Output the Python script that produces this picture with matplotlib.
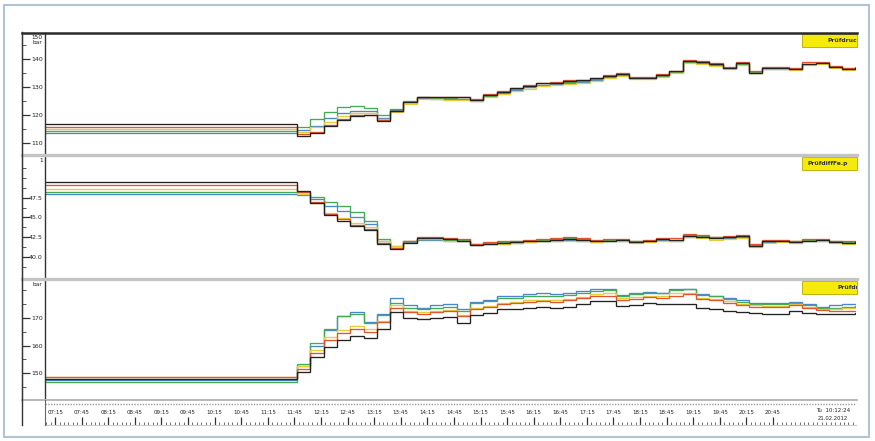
import numpy as np
import matplotlib.pyplot as plt
from matplotlib.patches import Rectangle
from matplotlib.lines import Line2D

W, H = 875, 441

# time grid in hours, 15 min samples (62 samples -> 63 edges)
edges = np.arange(7.0, 22.75, 0.25) + 0.05
t_lo, t_hi = 7.06, 22.31

tick_times = np.arange(7.25, 20.76, 0.5)
tick_labels = ['07:15', '07:45', '08:15', '08:45', '09:15', '09:45', '10:15',
               '10:45', '11:15', '11:45', '12:15', '12:45', '13:15', '13:45',
               '14:15', '14:45', '15:15', '15:45', '16:15', '16:45', '17:15',
               '17:45', '18:15', '18:45', '19:15', '19:45', '20:15', '20:45']

# --- top panel: Prüfdruck (bar) ---
top_black = [116.7] * 19 + [112.5, 113.5, 116.0, 118.0, 119.5, 119.8, 117.8, 121.5, 124.5, 126.5, 126.3, 126.5, 126.2, 125.3, 127.2, 128.3, 129.5, 130.3, 131.2, 131.5, 132.0, 132.3, 133.0, 134.0, 134.7, 133.3, 133.3, 134.3, 135.5, 139.3, 139.0, 138.2, 136.8, 138.4, 135.0, 136.6, 136.8, 136.5, 138.3, 138.6, 137.2, 136.5, 136.8]
top_red = [115.8] * 19 + [113.0, 114.0, 116.5, 118.5, 119.8, 120.0, 118.3, 121.5, 124.5, 126.3, 126.5, 126.3, 126.3, 125.5, 127.3, 128.5, 129.6, 130.5, 131.3, 131.8, 132.3, 132.5, 133.3, 134.2, 134.8, 133.5, 133.6, 134.5, 135.8, 139.5, 139.2, 138.5, 137.2, 138.8, 135.5, 137.0, 137.2, 136.8, 138.7, 139.0, 137.5, 136.8, 137.2]
top_yellow = [115.0] * 19 + [114.0, 115.5, 117.5, 119.5, 120.5, 120.8, 118.5, 121.0, 124.0, 125.5, 125.5, 125.3, 125.2, 124.8, 126.3, 127.3, 128.5, 129.3, 130.2, 130.6, 131.0, 131.4, 132.0, 133.0, 133.8, 132.8, 132.8, 133.6, 134.8, 138.6, 138.3, 137.6, 136.3, 137.8, 134.8, 136.2, 136.3, 136.0, 137.8, 138.2, 136.8, 136.0, 136.4]
top_green = [114.3] * 19 + [115.5, 118.5, 121.0, 122.8, 123.3, 122.3, 120.0, 122.0, 124.8, 126.2, 126.0, 126.0, 125.8, 125.3, 126.8, 128.0, 129.2, 130.0, 130.8, 131.2, 131.6, 132.0, 132.7, 133.6, 134.3, 133.2, 133.2, 134.0, 135.3, 139.0, 138.7, 138.0, 136.7, 138.2, 135.2, 136.6, 136.7, 136.5, 138.2, 138.6, 137.2, 136.4, 136.8]
top_blue = [113.6] * 19 + [114.5, 116.0, 119.0, 120.5, 121.5, 121.5, 119.0, 121.8, 124.5, 126.0, 125.8, 125.8, 125.5, 125.0, 126.8, 127.8, 129.0, 129.8, 130.7, 131.0, 131.5, 131.8, 132.5, 133.5, 134.2, 133.0, 133.0, 134.0, 135.2, 139.0, 138.6, 137.9, 136.6, 138.2, 135.0, 136.5, 136.5, 136.3, 138.2, 138.5, 137.0, 136.3, 136.7]

# --- middle panel: Prüfdifferenz ---
mid_black = [49.5] * 19 + [48.3, 46.8, 45.3, 44.6, 43.9, 43.4, 41.6, 41.0, 41.8, 42.4, 42.4, 42.3, 42.1, 41.5, 41.7, 41.8, 41.9, 42.0, 42.1, 42.2, 42.3, 42.2, 42.0, 42.1, 42.2, 41.9, 42.1, 42.3, 42.2, 42.7, 42.6, 42.4, 42.5, 42.7, 41.4, 42.0, 42.0, 41.9, 42.1, 42.2, 41.9, 41.8, 41.9]
mid_red = [49.1] * 19 + [48.2, 46.9, 45.5, 44.8, 44.1, 43.6, 41.8, 41.2, 42.0, 42.5, 42.5, 42.4, 42.3, 41.7, 41.9, 42.0, 42.1, 42.2, 42.3, 42.4, 42.5, 42.4, 42.2, 42.3, 42.3, 42.1, 42.2, 42.4, 42.4, 42.9, 42.8, 42.6, 42.7, 42.8, 41.6, 42.2, 42.2, 42.1, 42.3, 42.3, 42.1, 42.0, 42.1]
mid_yellow = [48.6] * 19 + [47.9, 46.8, 45.6, 44.9, 44.3, 43.8, 42.0, 41.4, 42.0, 42.3, 42.3, 42.1, 42.0, 41.5, 41.6, 41.7, 41.8, 41.9, 42.0, 42.1, 42.1, 42.0, 41.9, 42.0, 42.0, 41.8, 41.9, 42.1, 42.0, 42.5, 42.4, 42.2, 42.3, 42.4, 41.3, 41.8, 41.9, 41.8, 42.0, 42.0, 41.8, 41.7, 41.8]
mid_green = [48.25] * 19 + [48.0, 47.6, 47.0, 46.4, 45.7, 44.6, 42.3, 41.4, 42.1, 42.3, 42.3, 42.2, 42.2, 41.7, 41.8, 41.9, 42.0, 42.1, 42.2, 42.3, 42.4, 42.3, 42.1, 42.2, 42.2, 42.0, 42.1, 42.3, 42.2, 42.8, 42.7, 42.5, 42.6, 42.7, 41.5, 42.1, 42.1, 42.0, 42.2, 42.2, 42.0, 41.9, 42.0]
mid_blue = [48.0] * 19 + [47.8, 47.3, 46.4, 45.8, 45.0, 44.2, 42.0, 41.2, 41.9, 42.2, 42.2, 42.1, 42.0, 41.5, 41.6, 41.7, 41.8, 41.9, 42.0, 42.1, 42.2, 42.1, 41.9, 42.0, 42.1, 41.9, 42.0, 42.2, 42.1, 42.6, 42.5, 42.4, 42.4, 42.5, 41.4, 41.9, 42.0, 41.9, 42.1, 42.1, 41.9, 41.8, 41.9]

# --- bottom panel: Prüfdruck (bar) ---
bot_black = [148.0] * 19 + [150.5, 156.0, 159.5, 162.0, 163.5, 162.8, 166.0, 172.0, 170.0, 169.5, 170.0, 170.3, 168.3, 171.0, 171.8, 173.0, 173.2, 173.5, 173.8, 173.5, 174.0, 174.8, 176.0, 176.0, 174.3, 174.5, 175.4, 175.0, 175.0, 175.0, 173.6, 173.3, 172.5, 172.0, 171.8, 171.4, 171.4, 172.5, 171.8, 171.4, 171.2, 171.4, 171.6]
bot_red = [148.6] * 19 + [151.5, 157.5, 162.0, 164.5, 166.0, 165.0, 168.5, 173.5, 172.0, 171.5, 172.0, 172.3, 170.5, 173.0, 173.8, 175.0, 175.3, 175.8, 176.0, 175.8, 176.3, 177.0, 178.0, 178.0, 176.5, 176.8, 177.5, 177.3, 178.0, 178.5, 176.8, 176.3, 175.5, 174.5, 174.0, 173.8, 173.8, 174.5, 173.5, 172.8, 172.5, 172.5, 172.5]
bot_yellow = [148.8] * 19 + [152.5, 158.5, 163.0, 165.5, 167.0, 166.0, 169.0, 174.5, 172.5, 172.0, 172.5, 172.8, 171.0, 173.5, 174.3, 175.5, 175.8, 176.3, 176.5, 176.3, 176.8, 177.5, 178.5, 178.8, 177.0, 177.5, 178.0, 177.8, 178.8, 179.0, 177.3, 176.8, 176.0, 175.0, 174.5, 174.2, 174.3, 174.8, 174.0, 173.2, 173.0, 173.5, 173.6]
bot_green = [147.0] * 19 + [153.5, 161.0, 166.0, 170.5, 171.5, 168.0, 171.0, 175.5, 173.5, 173.0, 173.5, 174.0, 172.5, 175.3, 176.0, 177.0, 177.3, 177.8, 178.0, 177.8, 178.2, 179.0, 179.8, 180.0, 178.0, 178.5, 178.9, 178.8, 180.0, 180.2, 178.2, 177.8, 176.8, 175.8, 175.0, 175.0, 175.0, 175.5, 174.5, 173.5, 173.5, 174.0, 174.2]
bot_blue = [147.6] * 19 + [152.5, 160.0, 165.5, 170.5, 172.0, 168.5, 171.5, 177.0, 174.5, 173.5, 174.5, 175.0, 173.0, 175.8, 176.5, 177.8, 178.0, 178.5, 178.8, 178.5, 179.0, 179.5, 180.5, 180.3, 178.2, 178.8, 179.2, 179.0, 180.4, 180.5, 178.5, 178.0, 177.2, 176.3, 175.5, 175.2, 175.5, 175.8, 174.8, 174.0, 174.5, 175.0, 175.0]

colors = ['#4a86d0', '#44aa55', '#e6cc3a', '#e0552e', '#222222']  # blue, green, yellow, red, black

panels = [
    dict(y=(33, 153), ylim=(106.4, 149.2), ticks=[110, 120, 130, 140],
         labels=['110', '120', '130', '140'], minor=[115, 125, 135, 145],
         series=[top_blue, top_green, top_yellow, top_red, top_black],
         head='150\nbar', tag='Prüfdruck', tagx=828),
    dict(y=(156, 277), ylim=(37.5, 52.75), ticks=[40.0, 42.5, 45.0, 47.5],
         labels=['40.0', '42.5', '45.0', '47.5'], minor=[38.75, 41.25, 43.75, 46.25, 48.75, 50.0, 51.25],
         series=[mid_blue, mid_green, mid_yellow, mid_red, mid_black],
         head='1', tag='PrüfdiffFe.p', tagx=808),
    dict(y=(280, 400), ylim=(140.4, 183.6), ticks=[150, 160, 170],
         labels=['150', '160', '170'], minor=[145, 155, 165, 175, 180],
         series=[bot_blue, bot_green, bot_yellow, bot_red, bot_black],
         head='bar', tag='Prüfdruck', tagx=838),
]


def box(x0, y0, x1, y1):
    return [x0 / W, 1 - y1 / H, (x1 - x0) / W, (y1 - y0) / H]


def fline(x0, y0, x1, y1, **kw):
    fig.add_artist(Line2D([x0 / W, x1 / W], [1 - y0 / H, 1 - y1 / H],
                          transform=fig.transFigure, **kw))


fig = plt.figure(figsize=(W / 100, H / 100), dpi=100)
fig.patch.set_facecolor('white')

for p in panels:
    y0, y1 = p['y']
    ax = fig.add_axes(box(45, y0, 856, y1))
    for vals, c in zip(p['series'], colors):
        ax.stairs(vals, edges, baseline=None, color=c, lw=0.95)
    ax.set_xlim(t_lo, t_hi)
    ax.set_ylim(*p['ylim'])
    ax.set_xticks([])
    ax.set_yticks(p['ticks'])
    ax.set_yticklabels(p['labels'], fontsize=4.5, color='#222222')
    ax.tick_params(axis='y', length=0, pad=1.5)
    for s in ['top', 'right', 'bottom']:
        ax.spines[s].set_visible(False)
    ax.spines['left'].set_color('#333333')
    ax.spines['left'].set_linewidth(1.0)

    # left tick strip
    st = fig.add_axes(box(22, y0, 45, y1))
    st.set_xlim(0, 1)
    st.set_ylim(*p['ylim'])
    st.set_xticks([])
    st.set_yticks(p['ticks'])
    st.set_yticks(p['minor'], minor=True)
    st.tick_params(axis='y', which='major', direction='in', length=6, width=0.9,
                   color='#333333', labelleft=False)
    st.tick_params(axis='y', which='minor', direction='in', length=3, width=0.7,
                   color='#555555')
    for s in ['top', 'right', 'bottom']:
        st.spines[s].set_visible(False)
    st.spines['left'].set_color('#333333')
    st.patch.set_alpha(0)
    st.text(0.9, 0.985, p['head'], transform=st.transAxes, ha='right', va='top',
            fontsize=4.2, color='#222222', linespacing=1.0)

    # yellow series tag
    tag = Rectangle((802 / W, 1 - (y0 + 14) / H), 55 / W, 13 / H,
                    transform=fig.transFigure, facecolor='#f5ea0a',
                    edgecolor='#b8a800', lw=0.6)
    fig.add_artist(tag)
    tx = fig.text(p['tagx'] / W, 1 - (y0 + 7.5) / H, p['tag'], fontsize=4.3,
                  ha='left', va='center', color='#333333', fontweight='bold')
    tx.set_clip_path(tag)

# panel separators
fline(22, 32.5, 857, 32.5, color='#2a2a2a', lw=1.8)
fline(22, 154.5, 857, 154.5, color='#c4c4c4', lw=2.4)
fline(22, 278.5, 857, 278.5, color='#c4c4c4', lw=2.4)
fline(22, 400, 857, 400, color='#b8b8b8', lw=1.4)
fline(22, 32, 22, 425, color='#333333', lw=1.0)
fline(45, 400, 45, 425, color='#666666', lw=0.8)

# time axis strip
ax_t = fig.add_axes(box(45, 400, 856, 425))
ax_t.set_xlim(t_lo, t_hi)
ax_t.set_ylim(0, 1)
ax_t.set_yticks([])
ax_t.set_xticks(tick_times)
ax_t.set_xticks(np.arange(7.0833, 22.3, 1 / 12), minor=True)
ax_t.tick_params(axis='x', which='major', direction='in', length=6, width=0.9,
                 color='#333333', labelbottom=False)
ax_t.tick_params(axis='x', which='minor', direction='in', length=2.5, width=0.6,
                 color='#555555')
for s in ['top', 'left', 'right']:
    ax_t.spines[s].set_visible(False)
ax_t.spines['bottom'].set_color('#cccccc')
ax_t.axhline(0.84, color='#9a9a9a', lw=1.0, ls=(0, (1, 1)))
for tt, lab in zip(tick_times, tick_labels):
    ax_t.text(tt, 0.5, lab, fontsize=4.0, ha='center', va='center', color='#222222')
fig.text(833 / W, 1 - 411 / H, 'Tu  10:12:24', fontsize=4.0, ha='center',
         va='center', color='#222222')
fig.text(833 / W, 1 - 419 / H, '21.02.2012', fontsize=3.8, ha='center',
         va='center', color='#222222')

# outer frame
fig.add_artist(Rectangle((4 / W, 1 - 437 / H), 865 / W, 432 / H,
                         transform=fig.transFigure, fill=False,
                         edgecolor='#b4c2d2', lw=1.5))

fig.savefig('out.png', dpi=100)
